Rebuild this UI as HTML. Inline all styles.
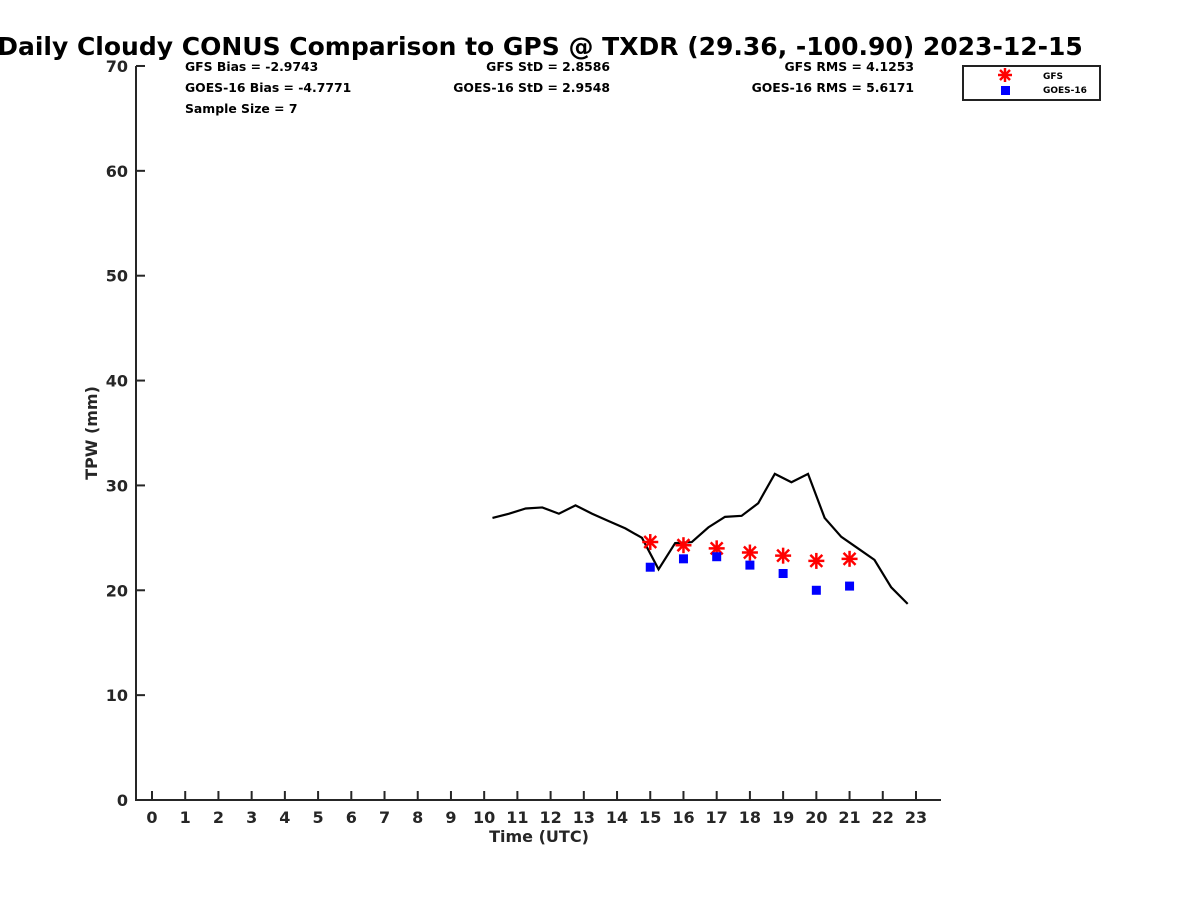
<!DOCTYPE html>
<html><head><meta charset="utf-8"><style>
body{margin:0;background:#fff}
svg{display:block;font-family:"DejaVu Sans",sans-serif;font-weight:bold}
</style></head><body>
<svg id="chart" width="1200" height="900">
<text x="540" y="55" text-anchor="middle" font-size="25">Daily Cloudy CONUS Comparison to GPS @ TXDR (29.36, -100.90) 2023-12-15</text>
<g font-size="12.4">
<text x="185" y="71">GFS Bias = -2.9743</text>
<text x="185" y="92">GOES-16 Bias = -4.7771</text>
<text x="185" y="113">Sample Size = 7</text>
<text x="610" y="71" text-anchor="end">GFS StD = 2.8586</text>
<text x="610" y="92" text-anchor="end">GOES-16 StD = 2.9548</text>
<text x="914" y="71" text-anchor="end">GFS RMS = 4.1253</text>
<text x="914" y="92" text-anchor="end">GOES-16 RMS = 5.6171</text>
</g>
<g id="axes"></g>
<g id="marks"></g>
<g>
<rect x="963" y="66" width="137" height="34" fill="#fff" stroke="#222" stroke-width="2"/>
<g stroke="red" stroke-width="2.5">
<line x1="1005" y1="68" x2="1005" y2="82"/><line x1="998" y1="75" x2="1012" y2="75"/><line x1="1000" y1="70" x2="1010" y2="80"/><line x1="1000" y1="80" x2="1010" y2="70"/></g>
<rect x="1001" y="86" width="9" height="9" fill="#0000ff"/>
<text x="1043" y="79" font-size="9">GFS</text>
<text x="1043" y="93" font-size="9">GOES-16</text>
</g>
</svg>
<script>
const gpsTimes=[10.25,10.75,11.25,11.75,12.25,12.75,13.25,13.75,14.25,14.75,15.25,15.75,16.25,16.75,17.25,17.75,18.25,18.75,19.25,19.75,20.25,20.75,21.25,21.75,22.25,22.75];
const gpsValues=[26.9,27.3,27.8,27.9,27.3,28.1,27.3,26.6,25.9,25.0,22.0,24.5,24.6,26.0,27.0,27.1,28.3,31.1,30.3,31.1,26.9,25.1,24.0,22.9,20.3,18.7];
const satHours=[15,16,17,18,19,20,21];
const gfsValues=[24.6,24.3,24.0,23.6,23.3,22.8,23.0];
const goesValues=[22.2,23.0,23.2,22.4,21.6,20.0,20.4];
const yTicks=[0,10,20,30,40,50,60,70];
const xTicks=[0,1,2,3,4,5,6,7,8,9,10,11,12,13,14,15,16,17,18,19,20,21,22,23];
const NS='http://www.w3.org/2000/svg';
const X=h=>152+h*33.217, Y=v=>800-v*10.486;
function mk(tag,attrs,parent){const e=document.createElementNS(NS,tag);for(const k in attrs)e.setAttribute(k,attrs[k]);parent.appendChild(e);return e;}
const ax=document.getElementById('axes'), mk2=document.getElementById('marks');
let a=mk('path',{d:'M136,66 L136,800 L941,800',fill:'none',stroke:'#262626','stroke-width':2},ax);


yTicks.forEach(v=>{
 let t=mk('line',{x1:136,x2:145,y1:Y(v),y2:Y(v),stroke:'#262626','stroke-width':2},ax);
 
 
 let l=mk('text',{x:128,y:Y(v)+6,'text-anchor':'end','font-size':16,fill:'#262626'},ax);
 l.textContent=v;
 
 
});
xTicks.forEach(h=>{
 let t=mk('line',{x1:X(h),x2:X(h),y1:800,y2:791,stroke:'#262626','stroke-width':2},ax);
 
 
 let l=mk('text',{x:X(h),y:823,'text-anchor':'middle','font-size':16,fill:'#262626'},ax);
 l.textContent=h;
 
 
});
let xt=mk('text',{x:539,y:842,'text-anchor':'middle','font-size':16,fill:'#262626'},ax);
xt.textContent='Time (UTC)';


let yt=mk('text',{x:0,y:0,'text-anchor':'middle','font-size':16,fill:'#262626',transform:'translate(97,433) rotate(-90)'},ax);
yt.textContent='TPW (mm)';


let ln=mk('polyline',{points:gpsTimes.map((t,i)=>X(t)+','+Y(gpsValues[i])).join(' '),fill:'none',stroke:'#000','stroke-width':2.2},mk2);


satHours.forEach((h,i)=>{
 const cx=X(h), cy=Y(gfsValues[i]);
 let g=mk('g',{stroke:'red','stroke-width':2.5},mk2);
 
 
 mk('line',{x1:cx,y1:cy-8,x2:cx,y2:cy+8},g);
 mk('line',{x1:cx-8,y1:cy,x2:cx+8,y2:cy},g);
 mk('line',{x1:cx-6,y1:cy-6,x2:cx+6,y2:cy+6},g);
 mk('line',{x1:cx-6,y1:cy+6,x2:cx+6,y2:cy-6},g);
 let r=mk('rect',{x:X(h)-4.5,y:Y(goesValues[i])-4.5,width:9,height:9,fill:'#0000ff'},mk2);
 
 
});
</script>
</body></html>
